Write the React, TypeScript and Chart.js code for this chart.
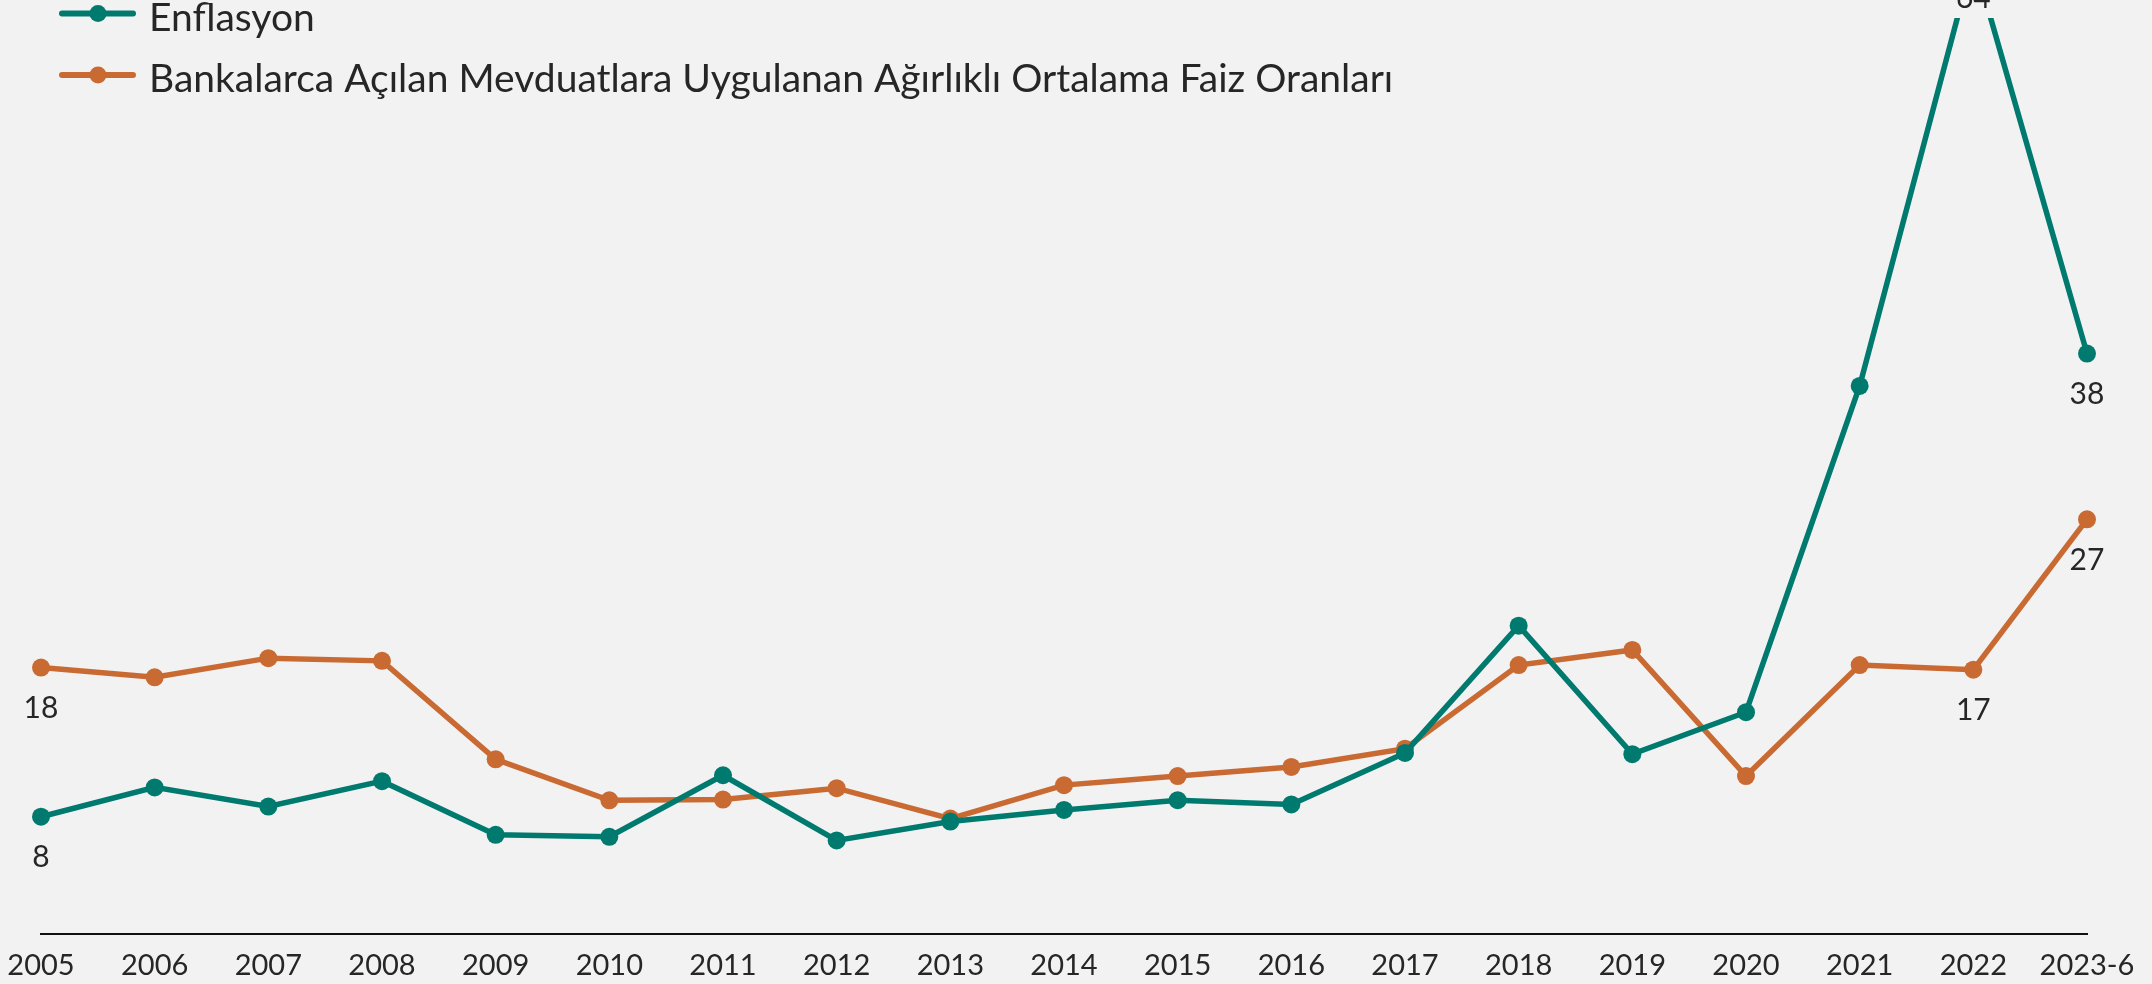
import React, { useEffect, useRef } from "react";
import { Chart, registerables } from "chart.js";

Chart.register(...registerables);

const categories = [
  "2005", "2006", "2007", "2008", "2009", "2010", "2011", "2012", "2013", "2014",
  "2015", "2016", "2017", "2018", "2019", "2020", "2021", "2022", "2023-6",
];
const inflation = [
  7.72, 9.65, 8.39, 10.06, 6.53, 6.4, 10.45, 6.16, 7.4, 8.17,
  8.81, 8.53, 11.92, 20.3, 11.84, 14.6, 36.08, 64.27, 38.21,
];
const depositRate = [
  17.54, 16.9, 18.16, 17.98, 11.5, 8.8, 8.85, 9.6, 7.6, 9.8,
  10.4, 11.0, 12.2, 17.7, 18.7, 10.4, 17.7, 17.4, 27.3,
];
const labelledPoints = [0, 17, 18];
const seriesNames = [
  "Enflasyon",
  "Bankalarca Açılan Mevduatlara Uygulanan Ağırlıklı Ortalama Faiz Oranları",
];
const seriesColors = ["#007a6e", "#c96a32"];

const FONT = "Lato, 'Open Sans', sans-serif";
const TEXT = "#262626";

const labelPlugin = {
  id: "pointLabels",
  afterDatasetsDraw(chart: any) {
    const ctx = chart.ctx;
    ctx.save();
    ctx.font = `30px ${FONT}`;
    ctx.fillStyle = TEXT;
    ctx.textAlign = "center";
    ctx.textBaseline = "middle";
    chart.data.datasets.forEach((ds: any, di: number) => {
      const meta = chart.getDatasetMeta(di);
      labelledPoints.forEach((i) => {
        const p = meta.data[i];
        if (!p) return;
        ctx.fillText(String(Math.round(ds.data[i])), p.x, p.y + 41);
      });
    });
    ctx.restore();
  },
};

const legendPlugin = {
  id: "customLegend",
  afterDraw(chart: any) {
    const ctx = chart.ctx;
    ctx.save();
    seriesNames.forEach((name, i) => {
      const y = 13.5 + i * 61.5;
      ctx.strokeStyle = seriesColors[i];
      ctx.lineWidth = 6;
      ctx.lineCap = "round";
      ctx.beginPath();
      ctx.moveTo(62, y);
      ctx.lineTo(133, y);
      ctx.stroke();
      ctx.fillStyle = seriesColors[i];
      ctx.beginPath();
      ctx.arc(98, y, 8.5, 0, Math.PI * 2);
      ctx.fill();
      ctx.fillStyle = TEXT;
      ctx.font = `39px ${FONT}`;
      ctx.textAlign = "left";
      ctx.textBaseline = "alphabetic";
      ctx.fillText(name, 149, y + 17.3);
    });
    ctx.restore();
  },
};

const clipArea = { left: 20, right: 20, top: 0, bottom: 20 };

export default function App() {
  const ref = useRef<HTMLCanvasElement | null>(null);

  useEffect(() => {
    if (!ref.current) return;
    const chart = new Chart(ref.current, {
      type: "line",
      data: {
        labels: categories,
        datasets: [
          {
            label: seriesNames[0],
            data: inflation,
            borderColor: seriesColors[0],
            backgroundColor: seriesColors[0],
            borderWidth: 5.5,
            pointRadius: 9,
            pointBorderWidth: 0,
            pointBackgroundColor: seriesColors[0],
            clip: clipArea,
            tension: 0,
          },
          {
            label: seriesNames[1],
            data: depositRate,
            borderColor: seriesColors[1],
            backgroundColor: seriesColors[1],
            borderWidth: 5.5,
            pointRadius: 9,
            pointBorderWidth: 0,
            pointBackgroundColor: seriesColors[1],
            clip: clipArea,
            tension: 0,
          },
        ],
      },
      options: {
        animation: false,
        responsive: false,
        devicePixelRatio: 1,
        layout: { padding: { left: 41, right: 65, top: 18, bottom: 0 } },
        plugins: {
          legend: { display: false },
          tooltip: { enabled: false },
        },
        scales: {
          x: {
            offset: false,
            grid: { display: false, drawTicks: false },
            border: { display: true, color: "#111111", width: 2 },
            ticks: {
              color: TEXT,
              font: { family: FONT, size: 29 },
              padding: 14,
              maxRotation: 0,
              autoSkip: false,
            },
            afterFit(scale: any) {
              scale.height = 50;
              scale.paddingLeft = 0;
              scale.paddingRight = 0;
            },
          },
          y: {
            display: false,
            min: 0,
            max: 60.3,
          },
        },
      },
      plugins: [labelPlugin, legendPlugin],
    });
    return () => chart.destroy();
  }, []);

  return (
    <div
      style={{
        position: "absolute",
        left: 0,
        top: 0,
        width: 2152,
        height: 984,
        background: "#f2f2f2",
      }}
    >
      <canvas ref={ref} width={2152} height={984} style={{ width: 2152, height: 984, display: "block" }} />
    </div>
  );
}
